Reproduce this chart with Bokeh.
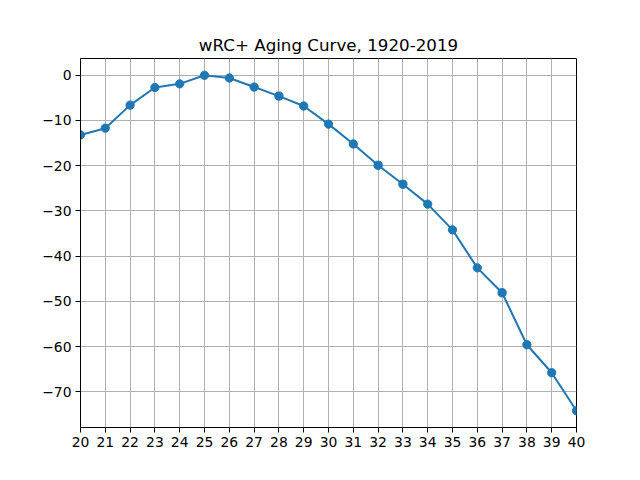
from bokeh.plotting import figure
from bokeh.models import Range1d, FixedTicker, CustomJSTickFormatter
from bokeh.embed import file_html
from bokeh.resources import INLINE

ages = [20, 21, 22, 23, 24, 25, 26, 27, 28, 29, 30, 31, 32, 33, 34, 35, 36, 37, 38, 39, 40]
wrc_delta = [-13.2, -11.7, -6.6, -2.7, -1.9, 0.0, -0.6, -2.6, -4.6, -6.8, -10.8,
             -15.2, -19.9, -24.1, -28.5, -34.2, -42.6, -48.1, -59.6, -65.8, -74.2]
x_ticks = list(range(20, 41))
y_ticks = [-70, -60, -50, -40, -30, -20, -10, 0]
title_text = "wRC+ Aging Curve, 1920-2019"

ymin = min(wrc_delta)
ymax = max(wrc_delta)
pad = 0.05 * (ymax - ymin)

p = figure(width=640, height=480, output_backend="svg", toolbar_location=None,
           x_range=Range1d(20, 40), y_range=Range1d(ymin - pad, ymax + pad),
           frame_width=496, frame_height=369,
           min_border_left=80, min_border_right=64, min_border_top=58, min_border_bottom=53)

p.title.text = title_text
p.title.align = "center"
p.title.text_font = "DejaVu Sans"
p.title.text_font_size = "16.7px"
p.title.text_font_style = "normal"
p.title.text_color = "black"
p.title.offset = 0
p.title.standoff = 7

p.background_fill_color = "white"
p.border_fill_color = "white"
p.outline_line_color = "black"
p.outline_line_width = 1
p.outline_line_alpha = 1

p.xaxis.ticker = FixedTicker(ticks=x_ticks)
p.yaxis.ticker = FixedTicker(ticks=y_ticks)
p.yaxis.formatter = CustomJSTickFormatter(code="return tick < 0 ? '\u2212' + Math.abs(tick) : tick.toString();")
p.xaxis.formatter = CustomJSTickFormatter(code="return tick.toFixed(0);")

for ax in (p.xaxis, p.yaxis):
    ax.axis_line_color = "black"
    ax.major_tick_line_color = "black"
    ax.major_tick_out = 5
    ax.major_tick_in = 0
    ax.minor_tick_line_color = None
    ax.major_label_text_font = "DejaVu Sans"
    ax.major_label_text_font_size = "13.9px"
    ax.major_label_text_color = "black"
    ax.major_label_standoff = 4

p.xgrid.grid_line_color = "#b0b0b0"
p.ygrid.grid_line_color = "#b0b0b0"
p.xgrid.grid_line_width = 1
p.ygrid.grid_line_width = 1

p.line(ages, wrc_delta, line_color="#1f77b4", line_width=2)
p.scatter(ages, wrc_delta, size=8.3, fill_color="#1f77b4", line_color="#1f77b4")

open("out.html", "w").write(file_html(p, INLINE))
